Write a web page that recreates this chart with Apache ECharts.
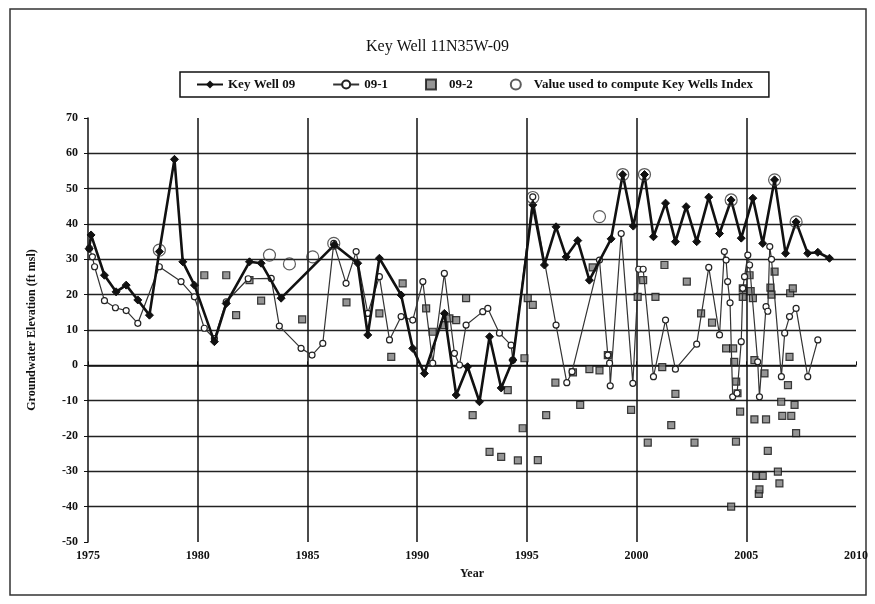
<!DOCTYPE html>
<html>
<head>
<meta charset="utf-8">
<script src="https://cdn.jsdelivr.net/npm/echarts@6/dist/echarts.min.js"></script>
<style>
html,body{margin:0;padding:0;background:#fff;}
#chart{width:875px;height:604px;}
</style>
</head>
<body>
<div id="chart"></div>
<script>
// ---- Data ----
const xTicks = [1975, 1980, 1985, 1990, 1995, 2000, 2005, 2010];
const yTicks = [-50, -40, -30, -20, -10, 0, 10, 20, 30, 40, 50, 60, 70];

const kw09Years = [1975.05,1975.14,1975.75,1976.28,1976.74,1977.27,1977.8,1978.25,1978.94,1979.32,1979.85,1980.76,1981.3,1982.36,1982.89,1983.8,1986.23,1987.29,1987.75,1988.28,1989.27,1989.8,1990.33,1991.24,1991.78,1992.3,1992.84,1993.3,1993.83,1994.36,1995.27,1995.8,1996.33,1996.79,1997.32,1997.85,1998.84,1999.37,1999.85,2000.36,2000.77,2001.32,2001.77,2002.26,2002.74,2003.29,2003.78,2004.31,2004.77,2005.3,2005.75,2006.29,2006.79,2007.27,2007.8,2008.26,2008.79];
const kw09Values = [33,36.9,25.5,20.8,22.7,18.5,14.2,32.2,58.3,29.3,22.7,6.7,17.5,29.3,28.9,19,34.1,28.9,8.6,30.3,19.9,4.8,-2.3,14.7,-8.4,-0.4,-10.3,8.1,-6.4,1.5,45.4,28.4,39.2,30.7,35.3,24.1,35.8,54.0,39.4,54.0,36.4,45.9,35.0,44.9,35.0,47.6,37.3,46.8,36.0,47.3,34.5,52.5,31.7,40.6,31.7,32.0,30.3];

const w091Years = [1975.06,1975.2,1975.3,1975.75,1976.25,1976.74,1977.27,1978.25,1979.24,1979.85,1980.3,1980.76,1981.3,1982.3,1983.35,1983.72,1984.71,1985.21,1985.7,1986.2,1986.76,1987.22,1987.75,1988.28,1988.74,1989.27,1989.8,1990.26,1990.71,1991.24,1991.7,1991.93,1992.23,1992.99,1993.22,1993.75,1994.28,1994.36,1995.27,1996.33,1996.82,1997.06,1998.31,1998.69,1998.77,1998.8,1999.3,1999.83,2000.1,2000.3,2000.77,2001.32,2001.77,2002.74,2003.29,2003.78,2004.0,2004.08,2004.15,2004.26,2004.38,2004.58,2004.77,2004.84,2004.92,2005.07,2005.15,2005.52,2005.6,2005.9,2005.98,2006.07,2006.15,2006.6,2006.75,2006.97,2007.27,2007.8,2008.26];
const w091Values = [33.1,30.7,27.9,18.3,16.3,15.5,11.9,27.9,23.7,19.4,10.5,7.6,18.0,24.5,24.6,11.1,4.8,2.9,6.2,34.5,23.2,32.2,14.7,25.1,7.2,13.8,12.8,23.7,0.6,26.0,3.4,0.1,11.4,15.2,16.1,9.1,5.7,1.5,47.7,11.4,-4.9,-1.8,29.8,2.9,0.6,-5.8,37.3,-5.1,27.2,27.2,-3.2,12.8,-1.1,6.0,27.7,8.6,32.2,29.8,23.7,17.7,-8.9,-7.9,6.7,21.8,25.1,31.2,28.4,1.0,-8.9,16.6,15.3,33.6,30.0,-3.2,9.1,13.8,16.1,-3.2,7.2];

const w092Years = [1980.3,1981.3,1981.75,1982.36,1982.89,1984.76,1986.78,1988.28,1988.82,1989.34,1990.41,1990.71,1991.24,1991.47,1991.78,1992.23,1992.53,1993.3,1993.83,1994.13,1994.59,1994.81,1994.89,1995.04,1995.27,1995.5,1995.88,1996.3,1997.1,1997.43,1997.85,1998.0,1998.31,1998.69,1999.75,2000.05,2000.3,2000.51,2000.86,2001.17,2001.27,2001.58,2001.77,2002.29,2002.64,2002.94,2003.44,2004.08,2004.31,2004.4,2004.45,2004.53,2004.54,2004.6,2004.72,2004.84,2004.84,2005.15,2005.2,2005.3,2005.37,2005.37,2005.45,2005.57,2005.6,2005.75,2005.83,2005.9,2005.98,2006.1,2006.15,2006.29,2006.44,2006.51,2006.59,2006.64,2006.9,2006.97,2007.0,2007.05,2007.12,2007.2,2007.27];
const w092Values = [25.5,25.5,14.2,24.1,18.3,13.0,17.8,14.7,2.4,23.2,16.1,9.5,11.4,13.3,12.8,19.0,-14.1,-24.5,-25.9,-7.0,-26.9,-17.8,2.0,19.0,17.1,-26.8,-14.1,-4.9,-2.0,-11.2,-1.1,27.7,-1.4,2.9,-12.6,19.4,24.1,-21.9,19.4,-0.5,28.4,-16.9,-8.1,23.7,-21.9,14.7,12.1,4.8,-40.0,4.8,1.0,-21.6,-4.6,-7.9,-13.1,19.4,21.8,25.5,21.0,19.0,1.5,-15.3,-31.3,-36.4,-35.1,-31.3,-2.3,-15.3,-24.2,22.0,20.0,26.5,-30.1,-33.4,-10.3,-14.3,-5.6,2.4,20.4,-14.3,21.8,-11.2,-19.2];

const usedYears = [1978.25,1983.27,1984.18,1985.24,1986.2,1995.27,1998.31,1999.37,2000.36,2004.31,2006.29,2007.27];
const usedValues = [32.6,31.2,28.7,30.7,34.5,47.5,42.1,54.0,54.0,46.8,52.5,40.6];

const zip = (xs, ys) => xs.map((x, i) => [x, ys[i]]);

const FONT = '"Liberation Serif", "DejaVu Serif", serif';
const chart = echarts.init(document.getElementById('chart'), null, {renderer: 'canvas'});

chart.setOption({
  backgroundColor: '#fff',
  animation: false,
  title: {
    text: 'Key Well 11N35W-09',
    left: 'center',
    top: 34,
    textStyle: {fontFamily: FONT, fontSize: 16, fontWeight: 'normal', color: '#111'}
  },
  legend: {
    top: 72,
    left: 180,
    padding: [6, 16, 6, 16],
    borderColor: '#111',
    borderWidth: 1.5,
    itemGap: 37,
    itemWidth: 26,
    itemHeight: 10,
    textStyle: {fontFamily: FONT, fontSize: 13, fontWeight: 'bold', color: '#111'},
    data: [
      'Key Well 09',
      '09-1',
      {name: '09-2', icon: 'path://M0,0L10,0L10,10L0,10Z'},
      'Value used to compute Key Wells Index'
    ]
  },
  graphic: [{
    type: 'rect',
    shape: {x: 10, y: 9, width: 856, height: 586},
    style: {fill: 'none', stroke: '#333', lineWidth: 1.5},
    silent: true
  }],
  grid: {left: 88, right: 19, top: 118, bottom: 62},
  xAxis: {
    type: 'value',
    min: xTicks[0],
    max: xTicks[xTicks.length - 1],
    interval: 5,
    name: 'Year',
    nameLocation: 'middle',
    nameGap: 26,
    nameTextStyle: {fontFamily: FONT, fontSize: 12, fontWeight: 'bold', color: '#111'},
    axisLine: {show: true, lineStyle: {color: '#111', width: 1.5}},
    axisTick: {show: true, length: 4, inside: true, lineStyle: {color: '#111'}},
    axisLabel: {fontFamily: FONT, fontSize: 12, fontWeight: 'bold', color: '#111', margin: 8,
      formatter: v => String(v)},
    splitLine: {show: true, showMinLine: false, showMaxLine: false, lineStyle: {color: '#111', width: 1.5}}
  },
  yAxis: {
    type: 'value',
    min: yTicks[0],
    max: yTicks[yTicks.length - 1],
    interval: 10,
    name: 'Groundwater Elevation (ft msl)',
    nameLocation: 'middle',
    nameGap: 50,
    nameTextStyle: {fontFamily: FONT, fontSize: 12, fontWeight: 'bold', color: '#111'},
    axisLine: {show: true, lineStyle: {color: '#111', width: 1.5}},
    axisTick: {show: true, length: 4, lineStyle: {color: '#111'}},
    axisLabel: {fontFamily: FONT, fontSize: 12, fontWeight: 'bold', color: '#111', margin: 10},
    splitLine: {show: true, showMinLine: false, showMaxLine: false, lineStyle: {color: '#222', width: 1.4}}
  },
  series: [
    {
      name: '09-2',
      type: 'scatter',
      data: zip(w092Years, w092Values),
      symbol: 'rect',
      symbolSize: 7,
      symbolKeepAspect: true,
      itemStyle: {color: '#7a7a7a', borderColor: '#111', borderWidth: 1.2},
      z: 2
    },
    {
      name: '09-1',
      type: 'line',
      data: zip(w091Years, w091Values),
      symbol: 'circle',
      symbolSize: 6,
      lineStyle: {color: '#333', width: 1.2},
      itemStyle: {color: '#fff', borderColor: '#222', borderWidth: 1.2},
      z: 3
    },
    {
      name: 'Key Well 09',
      type: 'line',
      data: zip(kw09Years, kw09Values),
      symbol: 'diamond',
      symbolSize: 8,
      lineStyle: {color: '#111', width: 2.6},
      itemStyle: {color: '#111', borderColor: '#111'},
      z: 4
    },
    {
      name: 'Value used to compute Key Wells Index',
      type: 'scatter',
      data: zip(usedYears, usedValues),
      symbol: 'circle',
      symbolSize: 12,
      itemStyle: {color: 'rgba(255,255,255,0)', borderColor: '#333', borderWidth: 1.2},
      z: 5
    }
  ]
});
</script>
</body>
</html>
